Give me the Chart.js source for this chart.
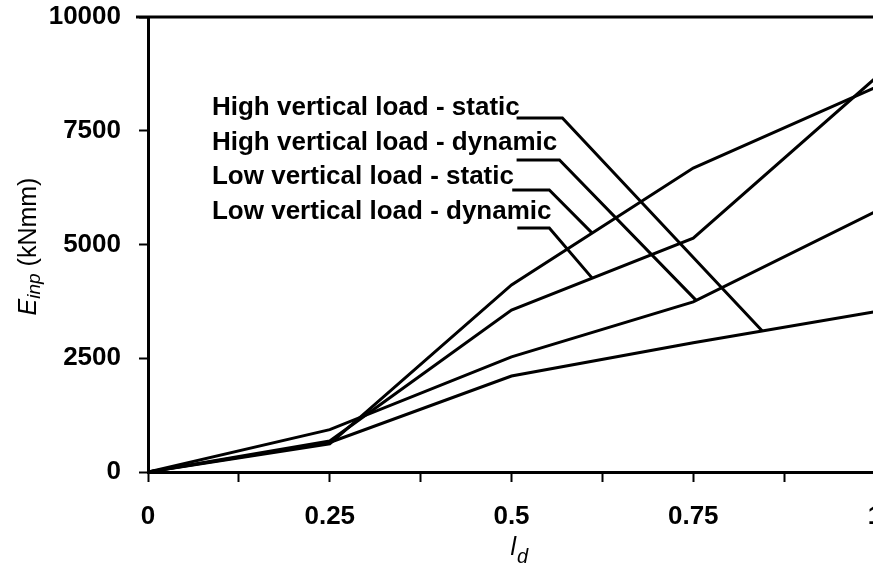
<!DOCTYPE html>
<html>
<head>
<meta charset="utf-8">
<script src="https://cdn.jsdelivr.net/npm/chart.js@4.4.1/dist/chart.umd.min.js"></script>
<style>
  html, body { margin: 0; padding: 0; background: #fff; overflow: hidden; }
  #wrap { width: 890px; height: 569px; }
</style>
</head>
<body>
<div id="wrap"><canvas id="chart" width="890" height="569"></canvas></div>
<script>
// Values
const xValues = [0, 0.25, 0.5, 0.75, 1];
const seriesNames = [
    'High vertical load - static',
    'High vertical load - dynamic',
    'Low vertical load - static',
    'Low vertical load - dynamic'
];
const highStatic = [0, 650, 2110, 2840, 3520];
const highDynamic = [0, 930, 2530, 3740, 5720];
const lowStatic = [0, 620, 4110, 6680, 8450];
const lowDynamic = [0, 680, 3560, 5140, 8650];
const xTickLabels = ['0', '0.25', '0.5', '0.75', '1'];
const yTickLabels = ['0', '2500', '5000', '7500', '10000'];

const allSeries = [highStatic, highDynamic, lowStatic, lowDynamic];

// Label / leader layout (in axis units)
const labelLayout = [
    { textY: 8000, lineY: 7780, startX: 0.507, elbowX: 0.570, targetX: 0.845 },
    { textY: 7231, lineY: 6857, startX: 0.507, elbowX: 0.566, targetX: 0.754 },
    { textY: 6484, lineY: 6198, startX: 0.501, elbowX: 0.552, targetX: 0.611 },
    { textY: 5714, lineY: 5363, startX: 0.508, elbowX: 0.552, targetX: 0.611 }
];
const labelX = 0.088;

// value of a series at x, straight segments between points
function valueAt(series, x) {
    for (let i = 0; i < xValues.length - 1; i++) {
        if (x >= xValues[i] && x <= xValues[i + 1]) {
            const t = (x - xValues[i]) / (xValues[i + 1] - xValues[i]);
            return series[i] + t * (series[i + 1] - series[i]);
        }
    }
    return series[series.length - 1];
}

const FONT = '"Liberation Sans", Arial, sans-serif';

const labelsPlugin = {
    id: 'labels',
    afterDatasetsDraw(chart) {
        const ctx = chart.ctx;
        const xs = chart.scales.x;
        const ys = chart.scales.y;
        const area = chart.chartArea;
        ctx.save();
        ctx.strokeStyle = '#000';
        ctx.fillStyle = '#000';
        ctx.lineCap = 'butt';
        ctx.lineJoin = 'miter';

        // top frame line
        ctx.lineWidth = 3;
        ctx.beginPath();
        ctx.moveTo(area.left - 12, area.top);
        ctx.lineTo(chart.width, area.top);
        ctx.stroke();

        // series labels with leader lines
        ctx.font = 'bold 26px ' + FONT;
        ctx.textBaseline = 'middle';
        ctx.textAlign = 'left';
        labelLayout.forEach((lab, i) => {
            ctx.fillText(seriesNames[i], xs.getPixelForValue(labelX), ys.getPixelForValue(lab.textY));
            ctx.lineWidth = 3;
            ctx.beginPath();
            ctx.moveTo(xs.getPixelForValue(lab.startX), ys.getPixelForValue(lab.lineY));
            ctx.lineTo(xs.getPixelForValue(lab.elbowX), ys.getPixelForValue(lab.lineY));
            ctx.lineTo(xs.getPixelForValue(lab.targetX), ys.getPixelForValue(valueAt(allSeries[i], lab.targetX)));
            ctx.stroke();
        });

        // y axis title: E_inp (kNmm)
        const big = '25px ' + FONT;
        const bigIt = 'italic 25px ' + FONT;
        const subIt = 'italic 19px ' + FONT;
        ctx.save();
        ctx.translate(28, (area.top + area.bottom) / 2 + 2);
        ctx.rotate(-Math.PI / 2);
        ctx.textBaseline = 'alphabetic';
        ctx.font = bigIt; const wE = ctx.measureText('E').width;
        ctx.font = subIt; const wSub = ctx.measureText('inp').width;
        ctx.font = big; const wUnit = ctx.measureText(' (kNmm)').width;
        const x0 = -(wE + wSub + wUnit) / 2;
        ctx.font = bigIt; ctx.fillText('E', x0, 8);
        ctx.font = subIt; ctx.fillText('inp', x0 + wE, 12);
        ctx.font = big; ctx.fillText(' (kNmm)', x0 + wE + wSub, 8);
        ctx.restore();

        // x axis title: I_d
        ctx.textBaseline = 'alphabetic';
        ctx.font = bigIt; const wI = ctx.measureText('l').width;
        ctx.font = 'italic 20px ' + FONT;
        const wd = ctx.measureText('d').width;
        const cx = xs.getPixelForValue(0.51);
        ctx.font = bigIt; ctx.fillText('l', cx - (wI + wd) / 2, 555);
        ctx.font = 'italic 20px ' + FONT;
        ctx.fillText('d', cx - (wI + wd) / 2 + wI + 1, 563);

        ctx.restore();
    }
};

const makeSet = (series, i) => ({
    label: seriesNames[i],
    data: xValues.map((x, k) => ({ x: x, y: series[k] })),
    borderColor: '#000',
    borderWidth: 3,
    pointRadius: 0,
    tension: 0,
    fill: false
});

new Chart(document.getElementById('chart').getContext('2d'), {
    type: 'line',
    data: { datasets: allSeries.map(makeSet) },
    options: {
        responsive: false,
        animation: false,
        layout: { padding: { top: 17, right: 15, left: 0, bottom: 0 } },
        plugins: {
            legend: { display: false },
            tooltip: { enabled: false }
        },
        scales: {
            x: {
                type: 'linear',
                min: 0,
                max: 1,
                afterFit(scale) {
                    scale.height = 97;
                    scale.paddingLeft = 0;
                    scale.paddingRight = 0;
                },
                border: { display: true, color: '#000', width: 3 },
                grid: { drawOnChartArea: false, drawTicks: true, tickLength: 10, tickWidth: 2, tickColor: '#000' },
                ticks: {
                    stepSize: 0.125,
                    autoSkip: false,
                    maxRotation: 0,
                    padding: 19,
                    color: '#000',
                    font: { family: FONT, size: 26, weight: 'bold' },
                    callback(value) {
                        const k = Math.round(value * 4);
                        return Math.abs(value * 4 - k) < 1e-6 ? xTickLabels[k] : '';
                    }
                }
            },
            y: {
                min: 0,
                max: 10000,
                afterFit(scale) {
                    scale.width = 148;
                    scale.paddingTop = 0;
                    scale.paddingBottom = 0;
                },
                border: { display: true, color: '#000', width: 3 },
                grid: { drawOnChartArea: false, drawTicks: true, tickLength: 9, tickWidth: 2, tickColor: '#000' },
                ticks: {
                    stepSize: 2500,
                    padding: 18,
                    color: '#000',
                    font: { family: FONT, size: 26, weight: 'bold' },
                    callback(value) {
                        return yTickLabels[Math.round(value / 2500)];
                    }
                }
            }
        }
    },
    plugins: [labelsPlugin]
});
</script>
</body>
</html>
